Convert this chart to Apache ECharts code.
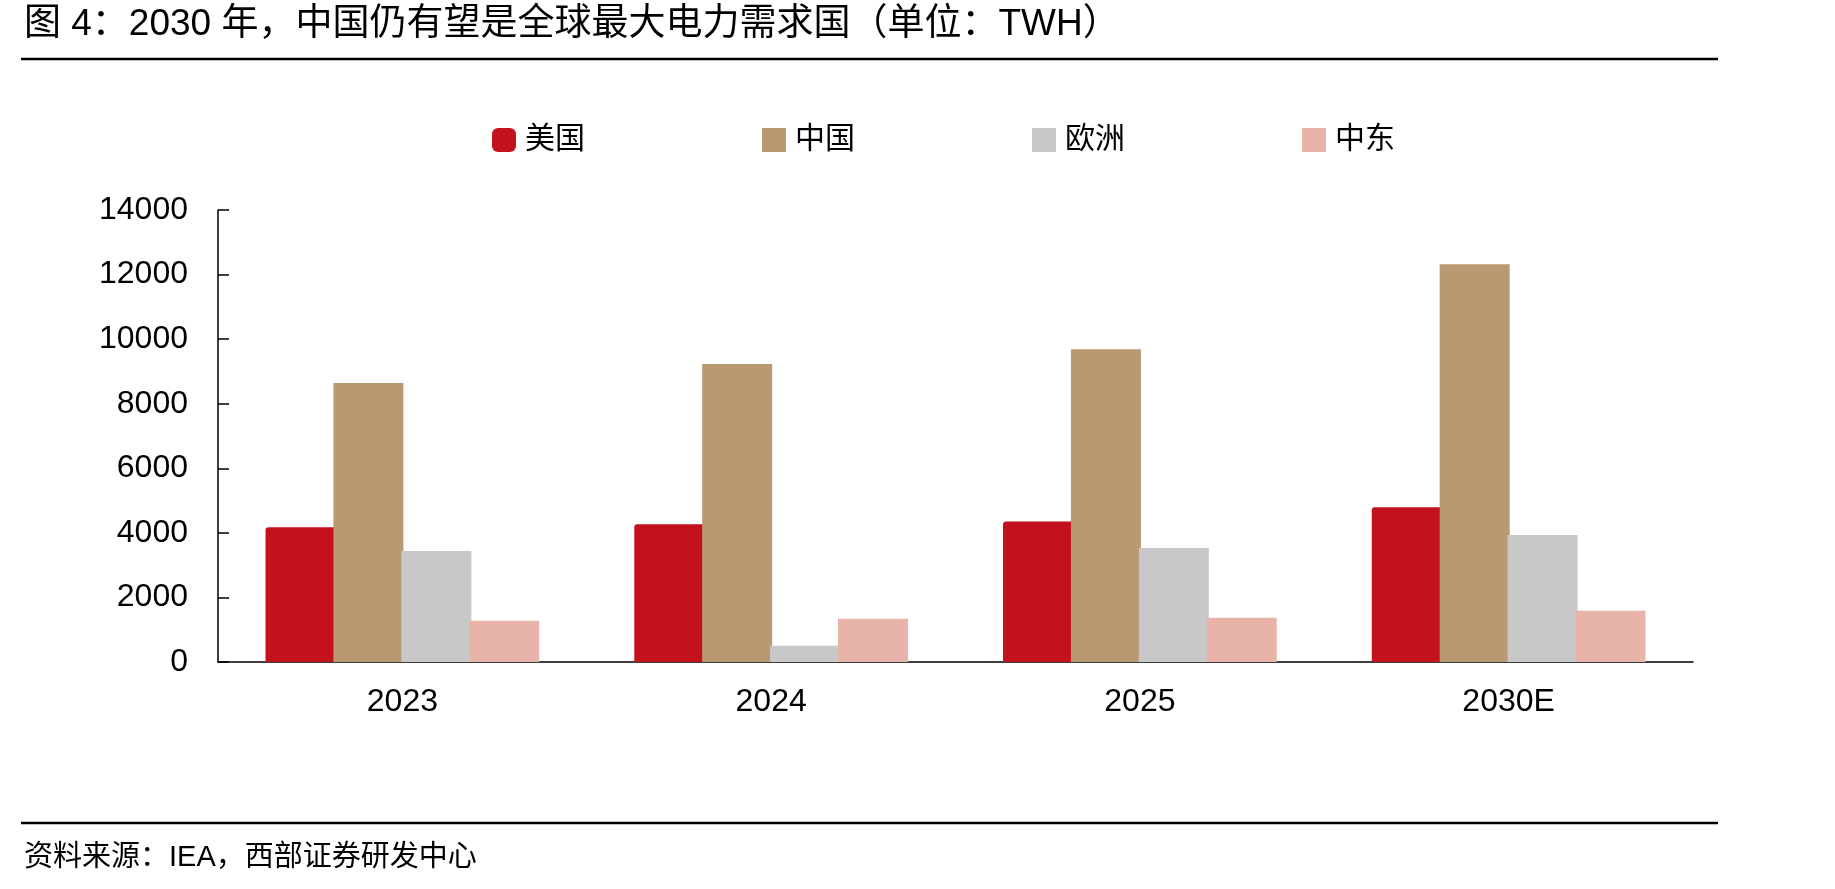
<!DOCTYPE html>
<html>
<head>
<meta charset="utf-8">
<script src="https://cdn.jsdelivr.net/npm/echarts@6/dist/echarts.min.js"></script>
<style>
  html, body { margin: 0; padding: 0; background: #fff; }
  #main { width: 1835px; height: 889px; }
</style>
</head>
<body>
<div id="main"></div>
<script>
// 数据（单位：TWH）
const years = ['2023', '2024', '2025', '2030E'];
const usa = [4170, 4270, 4350, 4790];        // 美国
const china = [8640, 9230, 9690, 12320];     // 中国
const europe = [3440, 500, 3530, 3930];      // 欧洲
const mideast = [1280, 1340, 1370, 1590];    // 中东
const seriesNames = ['美国', '中国', '欧洲', '中东'];
const yMin = 0, yMax = 14000, yStep = 2000;

const titleText = '图 4：2030 年，中国仍有望是全球最大电力需求国（单位：TWH）';
const sourceText = '资料来源：IEA，西部证券研发中心';

const colors = ['#C3111E', '#BA9872', '#C8C8C8', '#E8B3A8'];
const latin = "'Liberation Sans', Arial, sans-serif";
const cjk = "'Liberation Sans', 'Noto Sans CJK SC', sans-serif";

const chart = echarts.init(document.getElementById('main'));

function bar(name, data, i) {
  return {
    name: name,
    type: 'bar',
    data: data,
    barWidth: 70,
    barGap: '-3%',
    itemStyle: { color: colors[i], borderRadius: i === 0 ? [3, 0, 0, 0] : 0 },
    emphasis: { disabled: true }
  };
}

const option = {
  animation: false,
  backgroundColor: '#fff',
  graphic: [
    { type: 'text', left: 24, top: 6,
      style: { text: titleText, font: '37px ' + cjk, fill: '#000' } },
    { type: 'line', shape: { x1: 21, y1: 59, x2: 1718, y2: 59 },
      style: { stroke: '#000', lineWidth: 2.5 } },
    { type: 'line', shape: { x1: 21, y1: 823, x2: 1718, y2: 823 },
      style: { stroke: '#000', lineWidth: 2.5 } },
    { type: 'text', left: 24, top: 843,
      style: { text: sourceText, font: '29px ' + cjk, fill: '#000' } }
  ],
  legend: {
    left: 487,
    top: 120,
    itemWidth: 24,
    itemHeight: 24,
    itemGap: 177,
    data: [
      { name: '美国', icon: 'roundRect' },
      { name: '中国', icon: 'rect' },
      { name: '欧洲', icon: 'rect' },
      { name: '中东', icon: 'rect' }
    ],
    textStyle: { fontSize: 30, color: '#000', fontFamily: cjk, padding: [0, 0, 0, 4] }
  },
  grid: { left: 218, right: 142, top: 210, bottom: 227 },
  xAxis: {
    type: 'category',
    data: years,
    axisLine: { lineStyle: { color: '#000', width: 1.5 } },
    axisTick: { inside: true, length: 10, lineStyle: { color: '#000', width: 1.5 } },
    axisLabel: { fontSize: 32, color: '#000', margin: 24, fontFamily: latin }
  },
  yAxis: {
    type: 'value',
    min: yMin,
    max: yMax,
    interval: yStep,
    axisLine: { show: true, lineStyle: { color: '#000', width: 1.5 } },
    axisTick: { show: true, inside: true, length: 11, lineStyle: { color: '#000', width: 1.5 } },
    splitLine: { show: false },
    axisLabel: {
      fontSize: 32, color: '#000', margin: 30, fontFamily: latin,
      formatter: function (v) { return String(v); }
    }
  },
  series: [
    bar(seriesNames[0], usa, 0),
    bar(seriesNames[1], china, 1),
    bar(seriesNames[2], europe, 2),
    bar(seriesNames[3], mideast, 3)
  ]
};

chart.setOption(option);
</script>
</body>
</html>
